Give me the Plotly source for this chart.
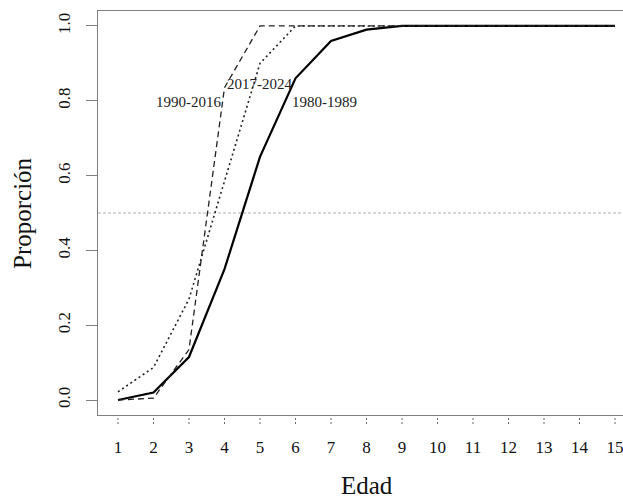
import plotly.graph_objects as go

edad = list(range(1, 16))
p_1980_1989 = [0.0, 0.02, 0.115, 0.35, 0.65, 0.86, 0.96, 0.99, 1.0, 1.0, 1.0, 1.0, 1.0, 1.0, 1.0]
p_1990_2016 = [0.0, 0.005, 0.135, 0.835, 1.0, 1.0, 1.0, 1.0, 1.0, 1.0, 1.0, 1.0, 1.0, 1.0, 1.0]
p_2017_2024 = [0.022, 0.087, 0.27, 0.585, 0.9, 1.0, 1.0, 1.0, 1.0, 1.0, 1.0, 1.0, 1.0, 1.0, 1.0]

labels = ["1990-2016", "2017-2024", "1980-1989"]
label_x = [3.0, 5.0, 6.82]
label_y = [0.797, 0.845, 0.797]

x_ticks = list(range(1, 16))
y_ticks = [0.0, 0.2, 0.4, 0.6, 0.8, 1.0]
y_ticktext = ["0.0", "0.2", "0.4", "0.6", "0.8", "1.0"]

FONT = "Liberation Serif, Times New Roman, serif"
AXIS_COL = "#808080"

fig = go.Figure()
fig.add_trace(go.Scatter(x=edad, y=p_1980_1989, mode="lines",
                         line=dict(color="black", width=2.2), showlegend=False))
fig.add_trace(go.Scatter(x=edad, y=p_1990_2016, mode="lines",
                         line=dict(color="#222222", width=1.3, dash="6px,4px"), showlegend=False))
fig.add_trace(go.Scatter(x=edad, y=p_2017_2024, mode="lines",
                         line=dict(color="#222222", width=1.6, dash="2px,3px"), showlegend=False))

for t, xx, yy in zip(labels, label_x, label_y):
    fig.add_annotation(x=xx, y=yy, text=t, showarrow=False, xref="x", yref="y",
                       font=dict(family=FONT, size=15, color="#222222"))

# reference line at 0.5
fig.add_shape(type="line", xref="paper", yref="y", x0=0, x1=1, y0=0.5, y1=0.5,
              line=dict(color="#b0b0b0", width=1, dash="3px,2px"), layer="below")

# dotted x tick marks
plot_h = 498 - 11 - 83
for xt in x_ticks:
    fig.add_shape(type="line", xref="x", yref="paper", x0=xt, x1=xt,
                  y0=-3 / plot_h, y1=-10 / plot_h,
                  line=dict(color="#666666", width=1, dash="2px,2px"))

fig.add_annotation(x=8, xref="x", y=-70 / plot_h, yref="paper", text="Edad", showarrow=False,
                   font=dict(family=FONT, size=25, color="#111111"), yanchor="middle")
fig.add_annotation(x=-76 / 525, xref="paper", y=0.5, yref="paper", text="Proporción",
                   showarrow=False, textangle=-90,
                   font=dict(family=FONT, size=25, color="#111111"), xanchor="center")

fig.update_layout(
    width=623, height=498,
    margin=dict(l=98, r=0, t=11, b=83),
    plot_bgcolor="white", paper_bgcolor="white",
    font=dict(family=FONT, color="#111111"),
    xaxis=dict(range=[0.437, 15.225], tickmode="array", tickvals=x_ticks,
               ticktext=[str(v) for v in x_ticks], showgrid=False, zeroline=False,
               showline=True, linecolor=AXIS_COL, linewidth=1.3, mirror=True,
               ticks="outside", ticklen=10, tickcolor="rgba(0,0,0,0)",
               ticklabelstandoff=6, ticklabeloverflow="allow",
               tickfont=dict(family=FONT, size=17, color="#111111")),
    yaxis=dict(range=[-0.04, 1.04], tickmode="array", tickvals=y_ticks, ticktext=y_ticktext,
               showgrid=False, zeroline=False, showline=True, linecolor=AXIS_COL,
               linewidth=1.3, ticks="outside", ticklen=11, tickcolor=AXIS_COL,
               tickwidth=1, tickangle=-90, ticklabelstandoff=9,
               tickfont=dict(family=FONT, size=17, color="#111111")),
)

fig.write_html("out.html")
